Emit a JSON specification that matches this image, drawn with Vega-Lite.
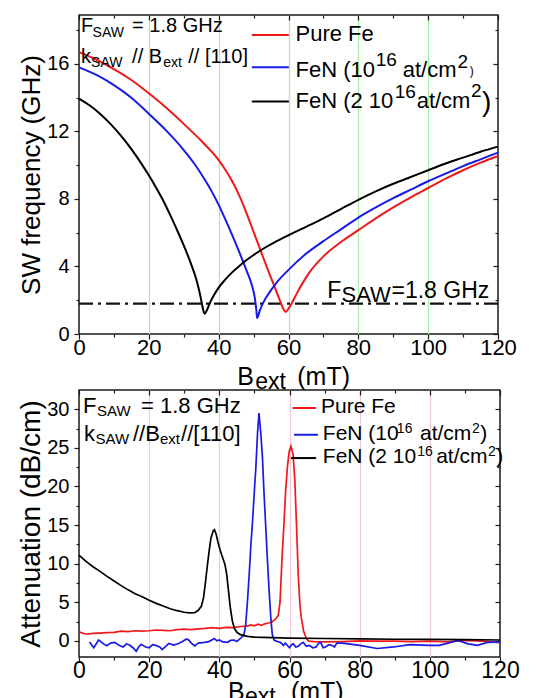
{
  "$schema": "https://vega.github.io/schema/vega-lite/v6.json",
  "padding": {"left": 17, "top": 13, "right": 5, "bottom": 0},
  "autosize": {"type": "pad"},
  "background": "white",
  "bounds": "flush",
  "spacing": 56,
  "config": {
    "font": "Liberation Sans",
    "view": {"stroke": "#1a1a1a", "strokeWidth": 1.5},
    "axis": {"labelFont": "Liberation Sans", "titleFont": "Liberation Sans", "labelColor": "#000", "tickColor": "#1a1a1a", "titleColor": "#000", "titleFontWeight": "normal", "domain": false, "grid": false, "labelFlush": false, "tickWidth": 1.2},
    "text": {"font": "Liberation Sans", "baseline": "alphabetic", "align": "left", "color": "#000"}
  },
  "datasets": {
    "sw": [
      {"B":0,"f":16.7,"s":"Pure Fe"},{"B":5,"f":16.25,"s":"Pure Fe"},{"B":10,"f":15.7,"s":"Pure Fe"},{"B":15,"f":15.05,"s":"Pure Fe"},{"B":20,"f":14.26,"s":"Pure Fe"},{"B":25,"f":13.4,"s":"Pure Fe"},{"B":30,"f":12.45,"s":"Pure Fe"},{"B":35,"f":11.45,"s":"Pure Fe"},{"B":38,"f":10.8,"s":"Pure Fe"},{"B":40,"f":10.3,"s":"Pure Fe"},{"B":42,"f":9.7,"s":"Pure Fe"},{"B":44,"f":9.0,"s":"Pure Fe"},{"B":46,"f":8.15,"s":"Pure Fe"},{"B":48,"f":7.15,"s":"Pure Fe"},{"B":50,"f":6.05,"s":"Pure Fe"},{"B":52,"f":4.95,"s":"Pure Fe"},{"B":54,"f":3.85,"s":"Pure Fe"},{"B":56,"f":2.8,"s":"Pure Fe"},{"B":57.5,"f":2.0,"s":"Pure Fe"},{"B":58.5,"f":1.5,"s":"Pure Fe"},{"B":59.2,"f":1.3,"s":"Pure Fe"},{"B":60,"f":1.5,"s":"Pure Fe"},{"B":61,"f":1.85,"s":"Pure Fe"},{"B":62.5,"f":2.45,"s":"Pure Fe"},{"B":64,"f":3.0,"s":"Pure Fe"},{"B":66,"f":3.65,"s":"Pure Fe"},{"B":70,"f":4.6,"s":"Pure Fe"},{"B":75,"f":5.45,"s":"Pure Fe"},{"B":80,"f":6.15,"s":"Pure Fe"},{"B":85,"f":6.85,"s":"Pure Fe"},{"B":90,"f":7.5,"s":"Pure Fe"},{"B":95,"f":8.1,"s":"Pure Fe"},{"B":100,"f":8.65,"s":"Pure Fe"},{"B":105,"f":9.2,"s":"Pure Fe"},{"B":110,"f":9.7,"s":"Pure Fe"},{"B":115,"f":10.15,"s":"Pure Fe"},{"B":120,"f":10.55,"s":"Pure Fe"},
      {"B":0,"f":15.8,"s":"FeN 1e16"},{"B":5,"f":15.35,"s":"FeN 1e16"},{"B":10,"f":14.75,"s":"FeN 1e16"},{"B":15,"f":14.0,"s":"FeN 1e16"},{"B":20,"f":13.05,"s":"FeN 1e16"},{"B":25,"f":12.05,"s":"FeN 1e16"},{"B":30,"f":10.9,"s":"FeN 1e16"},{"B":33,"f":10.1,"s":"FeN 1e16"},{"B":36,"f":9.15,"s":"FeN 1e16"},{"B":38,"f":8.45,"s":"FeN 1e16"},{"B":40,"f":7.65,"s":"FeN 1e16"},{"B":42,"f":6.75,"s":"FeN 1e16"},{"B":44,"f":5.8,"s":"FeN 1e16"},{"B":46,"f":4.8,"s":"FeN 1e16"},{"B":48,"f":3.75,"s":"FeN 1e16"},{"B":49.5,"f":2.9,"s":"FeN 1e16"},{"B":50.3,"f":2.2,"s":"FeN 1e16"},{"B":50.8,"f":1.4,"s":"FeN 1e16"},{"B":51,"f":0.95,"s":"FeN 1e16"},{"B":51.8,"f":1.4,"s":"FeN 1e16"},{"B":53,"f":1.95,"s":"FeN 1e16"},{"B":55,"f":2.6,"s":"FeN 1e16"},{"B":56.6,"f":3.05,"s":"FeN 1e16"},{"B":60,"f":3.8,"s":"FeN 1e16"},{"B":65,"f":4.75,"s":"FeN 1e16"},{"B":70,"f":5.5,"s":"FeN 1e16"},{"B":75,"f":6.2,"s":"FeN 1e16"},{"B":80,"f":6.9,"s":"FeN 1e16"},{"B":85,"f":7.5,"s":"FeN 1e16"},{"B":90,"f":8.05,"s":"FeN 1e16"},{"B":95,"f":8.55,"s":"FeN 1e16"},{"B":100,"f":9.05,"s":"FeN 1e16"},{"B":105,"f":9.5,"s":"FeN 1e16"},{"B":110,"f":9.95,"s":"FeN 1e16"},{"B":115,"f":10.35,"s":"FeN 1e16"},{"B":120,"f":10.75,"s":"FeN 1e16"},
      {"B":0,"f":13.95,"s":"FeN 2e16"},{"B":3,"f":13.55,"s":"FeN 2e16"},{"B":6,"f":13.05,"s":"FeN 2e16"},{"B":9,"f":12.45,"s":"FeN 2e16"},{"B":12,"f":11.75,"s":"FeN 2e16"},{"B":15,"f":10.95,"s":"FeN 2e16"},{"B":18,"f":10.05,"s":"FeN 2e16"},{"B":20,"f":9.4,"s":"FeN 2e16"},{"B":22,"f":8.7,"s":"FeN 2e16"},{"B":24,"f":7.95,"s":"FeN 2e16"},{"B":26,"f":7.1,"s":"FeN 2e16"},{"B":28,"f":6.2,"s":"FeN 2e16"},{"B":30,"f":5.25,"s":"FeN 2e16"},{"B":32,"f":4.2,"s":"FeN 2e16"},{"B":33.5,"f":3.3,"s":"FeN 2e16"},{"B":34.5,"f":2.5,"s":"FeN 2e16"},{"B":35.2,"f":1.8,"s":"FeN 2e16"},{"B":35.6,"f":1.4,"s":"FeN 2e16"},{"B":36,"f":1.2,"s":"FeN 2e16"},{"B":36.6,"f":1.4,"s":"FeN 2e16"},{"B":37.4,"f":1.8,"s":"FeN 2e16"},{"B":38.5,"f":2.25,"s":"FeN 2e16"},{"B":40,"f":2.75,"s":"FeN 2e16"},{"B":42,"f":3.25,"s":"FeN 2e16"},{"B":44,"f":3.68,"s":"FeN 2e16"},{"B":46,"f":4.05,"s":"FeN 2e16"},{"B":48,"f":4.38,"s":"FeN 2e16"},{"B":50,"f":4.68,"s":"FeN 2e16"},{"B":53,"f":5.08,"s":"FeN 2e16"},{"B":56,"f":5.43,"s":"FeN 2e16"},{"B":60,"f":5.85,"s":"FeN 2e16"},{"B":65,"f":6.35,"s":"FeN 2e16"},{"B":70,"f":6.85,"s":"FeN 2e16"},{"B":75,"f":7.4,"s":"FeN 2e16"},{"B":80,"f":7.95,"s":"FeN 2e16"},{"B":85,"f":8.45,"s":"FeN 2e16"},{"B":90,"f":8.9,"s":"FeN 2e16"},{"B":95,"f":9.3,"s":"FeN 2e16"},{"B":100,"f":9.7,"s":"FeN 2e16"},{"B":105,"f":10.1,"s":"FeN 2e16"},{"B":110,"f":10.45,"s":"FeN 2e16"},{"B":115,"f":10.8,"s":"FeN 2e16"},{"B":120,"f":11.1,"s":"FeN 2e16"}
    ],
    "att": [
      {"B":0,"a":1.15,"s":"Pure Fe"},{"B":2,"a":0.85,"s":"Pure Fe"},{"B":4,"a":0.95,"s":"Pure Fe"},{"B":6,"a":1.0,"s":"Pure Fe"},{"B":8,"a":1.05,"s":"Pure Fe"},{"B":10,"a":1.1,"s":"Pure Fe"},{"B":12,"a":1.25,"s":"Pure Fe"},{"B":14,"a":1.2,"s":"Pure Fe"},{"B":16,"a":1.3,"s":"Pure Fe"},{"B":18,"a":1.25,"s":"Pure Fe"},{"B":20,"a":1.3,"s":"Pure Fe"},{"B":22,"a":1.4,"s":"Pure Fe"},{"B":24,"a":1.35,"s":"Pure Fe"},{"B":26,"a":1.3,"s":"Pure Fe"},{"B":28,"a":1.45,"s":"Pure Fe"},{"B":30,"a":1.5,"s":"Pure Fe"},{"B":32,"a":1.45,"s":"Pure Fe"},{"B":34,"a":1.55,"s":"Pure Fe"},{"B":36,"a":1.6,"s":"Pure Fe"},{"B":38,"a":1.7,"s":"Pure Fe"},{"B":40,"a":1.6,"s":"Pure Fe"},{"B":42,"a":1.75,"s":"Pure Fe"},{"B":44,"a":1.7,"s":"Pure Fe"},{"B":46,"a":1.85,"s":"Pure Fe"},{"B":48,"a":1.9,"s":"Pure Fe"},{"B":49,"a":2.05,"s":"Pure Fe"},{"B":50,"a":1.95,"s":"Pure Fe"},{"B":51,"a":2.15,"s":"Pure Fe"},{"B":52,"a":2.0,"s":"Pure Fe"},{"B":53,"a":2.2,"s":"Pure Fe"},{"B":54,"a":2.3,"s":"Pure Fe"},{"B":55,"a":2.45,"s":"Pure Fe"},{"B":56,"a":2.8,"s":"Pure Fe"},{"B":56.8,"a":3.3,"s":"Pure Fe"},{"B":57.3,"a":5.0,"s":"Pure Fe"},{"B":57.9,"a":11,"s":"Pure Fe"},{"B":58.4,"a":15,"s":"Pure Fe"},{"B":58.9,"a":19.5,"s":"Pure Fe"},{"B":59.4,"a":22.5,"s":"Pure Fe"},{"B":59.9,"a":24.5,"s":"Pure Fe"},{"B":60.4,"a":25.2,"s":"Pure Fe"},{"B":61,"a":24.2,"s":"Pure Fe"},{"B":61.5,"a":21,"s":"Pure Fe"},{"B":62,"a":15,"s":"Pure Fe"},{"B":62.5,"a":8.5,"s":"Pure Fe"},{"B":63,"a":4.5,"s":"Pure Fe"},{"B":63.4,"a":2.9,"s":"Pure Fe"},{"B":64,"a":1.3,"s":"Pure Fe"},{"B":64.8,"a":0.3,"s":"Pure Fe"},{"B":65.5,"a":-0.05,"s":"Pure Fe"},{"B":67,"a":-0.1,"s":"Pure Fe"},{"B":70,"a":-0.15,"s":"Pure Fe"},{"B":75,"a":-0.1,"s":"Pure Fe"},{"B":80,"a":0,"s":"Pure Fe"},{"B":85,"a":-0.05,"s":"Pure Fe"},{"B":90,"a":-0.05,"s":"Pure Fe"},{"B":95,"a":-0.1,"s":"Pure Fe"},{"B":100,"a":-0.05,"s":"Pure Fe"},{"B":105,"a":-0.15,"s":"Pure Fe"},{"B":110,"a":0.05,"s":"Pure Fe"},{"B":115,"a":-0.05,"s":"Pure Fe"},{"B":120,"a":-0.25,"s":"Pure Fe"},
      {"B":3,"a":-0.15,"s":"FeN 1e16"},{"B":4.2,"a":-0.9,"s":"FeN 1e16"},{"B":5.6,"a":0.1,"s":"FeN 1e16"},{"B":7,"a":-0.4,"s":"FeN 1e16"},{"B":7.9,"a":-0.65,"s":"FeN 1e16"},{"B":9,"a":-0.3,"s":"FeN 1e16"},{"B":10.2,"a":-0.2,"s":"FeN 1e16"},{"B":11.5,"a":-0.6,"s":"FeN 1e16"},{"B":12.6,"a":-0.8,"s":"FeN 1e16"},{"B":13.5,"a":-0.4,"s":"FeN 1e16"},{"B":14.4,"a":-0.55,"s":"FeN 1e16"},{"B":15.4,"a":-0.9,"s":"FeN 1e16"},{"B":16.3,"a":-1.35,"s":"FeN 1e16"},{"B":17,"a":-0.8,"s":"FeN 1e16"},{"B":17.7,"a":-0.45,"s":"FeN 1e16"},{"B":19,"a":-0.8,"s":"FeN 1e16"},{"B":20,"a":-0.9,"s":"FeN 1e16"},{"B":21,"a":-0.5,"s":"FeN 1e16"},{"B":21.9,"a":-0.6,"s":"FeN 1e16"},{"B":23,"a":-0.8,"s":"FeN 1e16"},{"B":23.7,"a":-1.15,"s":"FeN 1e16"},{"B":24.8,"a":-0.7,"s":"FeN 1e16"},{"B":25.6,"a":-0.35,"s":"FeN 1e16"},{"B":27,"a":-0.55,"s":"FeN 1e16"},{"B":28.4,"a":-0.35,"s":"FeN 1e16"},{"B":29.5,"a":-0.1,"s":"FeN 1e16"},{"B":30.5,"a":0.2,"s":"FeN 1e16"},{"B":31.2,"a":0.15,"s":"FeN 1e16"},{"B":32,"a":-0.3,"s":"FeN 1e16"},{"B":33,"a":-0.65,"s":"FeN 1e16"},{"B":34,"a":-0.3,"s":"FeN 1e16"},{"B":35.8,"a":-0.2,"s":"FeN 1e16"},{"B":37,"a":-0.1,"s":"FeN 1e16"},{"B":38.6,"a":0.3,"s":"FeN 1e16"},{"B":39.3,"a":0.0,"s":"FeN 1e16"},{"B":40,"a":0.1,"s":"FeN 1e16"},{"B":41,"a":-0.15,"s":"FeN 1e16"},{"B":42.3,"a":-0.2,"s":"FeN 1e16"},{"B":43.2,"a":0.05,"s":"FeN 1e16"},{"B":44.2,"a":0.1,"s":"FeN 1e16"},{"B":45,"a":-0.1,"s":"FeN 1e16"},{"B":46,"a":0.3,"s":"FeN 1e16"},{"B":47,"a":0.75,"s":"FeN 1e16"},{"B":47.5,"a":2.0,"s":"FeN 1e16"},{"B":48,"a":5,"s":"FeN 1e16"},{"B":48.5,"a":8.5,"s":"FeN 1e16"},{"B":49,"a":12.5,"s":"FeN 1e16"},{"B":49.4,"a":15,"s":"FeN 1e16"},{"B":50,"a":19.5,"s":"FeN 1e16"},{"B":50.4,"a":22.4,"s":"FeN 1e16"},{"B":50.9,"a":27,"s":"FeN 1e16"},{"B":51.3,"a":29.5,"s":"FeN 1e16"},{"B":51.8,"a":27,"s":"FeN 1e16"},{"B":52.3,"a":23.7,"s":"FeN 1e16"},{"B":52.7,"a":19.5,"s":"FeN 1e16"},{"B":53.2,"a":15,"s":"FeN 1e16"},{"B":53.7,"a":10.5,"s":"FeN 1e16"},{"B":54.2,"a":6.4,"s":"FeN 1e16"},{"B":54.7,"a":2.8,"s":"FeN 1e16"},{"B":55.1,"a":0.8,"s":"FeN 1e16"},{"B":55.6,"a":0.1,"s":"FeN 1e16"},{"B":56.5,"a":-0.1,"s":"FeN 1e16"},{"B":57.4,"a":-0.2,"s":"FeN 1e16"},{"B":58.3,"a":-0.6,"s":"FeN 1e16"},{"B":58.8,"a":-0.3,"s":"FeN 1e16"},{"B":60,"a":-0.9,"s":"FeN 1e16"},{"B":60.6,"a":-0.5,"s":"FeN 1e16"},{"B":61.1,"a":-0.4,"s":"FeN 1e16"},{"B":61.8,"a":-0.8,"s":"FeN 1e16"},{"B":62.5,"a":-0.7,"s":"FeN 1e16"},{"B":63.2,"a":-0.4,"s":"FeN 1e16"},{"B":63.9,"a":-0.2,"s":"FeN 1e16"},{"B":64.8,"a":-0.7,"s":"FeN 1e16"},{"B":65.7,"a":-0.6,"s":"FeN 1e16"},{"B":66.6,"a":-0.9,"s":"FeN 1e16"},{"B":67.6,"a":-0.8,"s":"FeN 1e16"},{"B":68.3,"a":-0.3,"s":"FeN 1e16"},{"B":68.9,"a":-0.2,"s":"FeN 1e16"},{"B":69.6,"a":-0.9,"s":"FeN 1e16"},{"B":70.3,"a":-0.8,"s":"FeN 1e16"},{"B":71.2,"a":-0.5,"s":"FeN 1e16"},{"B":72.2,"a":-0.6,"s":"FeN 1e16"},{"B":72.8,"a":-0.8,"s":"FeN 1e16"},{"B":73.5,"a":-0.3,"s":"FeN 1e16"},{"B":75,"a":-0.3,"s":"FeN 1e16"},{"B":76.8,"a":-0.4,"s":"FeN 1e16"},{"B":80,"a":-0.6,"s":"FeN 1e16"},{"B":85,"a":-1.0,"s":"FeN 1e16"},{"B":89.7,"a":-0.8,"s":"FeN 1e16"},{"B":94.3,"a":-0.5,"s":"FeN 1e16"},{"B":99.8,"a":-0.6,"s":"FeN 1e16"},{"B":102.6,"a":-0.6,"s":"FeN 1e16"},{"B":104.4,"a":-0.4,"s":"FeN 1e16"},{"B":108,"a":0.05,"s":"FeN 1e16"},{"B":110.9,"a":-0.4,"s":"FeN 1e16"},{"B":113.6,"a":-0.6,"s":"FeN 1e16"},{"B":116.4,"a":-0.2,"s":"FeN 1e16"},{"B":120,"a":-0.15,"s":"FeN 1e16"},
      {"B":0,"a":11.1,"s":"FeN 2e16"},{"B":2,"a":10.3,"s":"FeN 2e16"},{"B":4,"a":9.6,"s":"FeN 2e16"},{"B":6,"a":9.0,"s":"FeN 2e16"},{"B":8,"a":8.35,"s":"FeN 2e16"},{"B":10,"a":7.75,"s":"FeN 2e16"},{"B":12,"a":7.15,"s":"FeN 2e16"},{"B":14,"a":6.6,"s":"FeN 2e16"},{"B":16,"a":6.1,"s":"FeN 2e16"},{"B":18,"a":5.7,"s":"FeN 2e16"},{"B":20,"a":5.25,"s":"FeN 2e16"},{"B":22,"a":4.85,"s":"FeN 2e16"},{"B":24,"a":4.5,"s":"FeN 2e16"},{"B":26,"a":4.15,"s":"FeN 2e16"},{"B":28,"a":3.9,"s":"FeN 2e16"},{"B":30,"a":3.7,"s":"FeN 2e16"},{"B":31.5,"a":3.62,"s":"FeN 2e16"},{"B":33,"a":3.65,"s":"FeN 2e16"},{"B":34,"a":3.95,"s":"FeN 2e16"},{"B":34.9,"a":4.5,"s":"FeN 2e16"},{"B":35.5,"a":5.6,"s":"FeN 2e16"},{"B":36,"a":7.4,"s":"FeN 2e16"},{"B":36.5,"a":9.4,"s":"FeN 2e16"},{"B":37,"a":11.3,"s":"FeN 2e16"},{"B":37.6,"a":13.3,"s":"FeN 2e16"},{"B":38.3,"a":14.3,"s":"FeN 2e16"},{"B":38.6,"a":14.4,"s":"FeN 2e16"},{"B":39.1,"a":13.8,"s":"FeN 2e16"},{"B":39.6,"a":12.8,"s":"FeN 2e16"},{"B":40.2,"a":11.8,"s":"FeN 2e16"},{"B":41,"a":10.7,"s":"FeN 2e16"},{"B":41.6,"a":9.9,"s":"FeN 2e16"},{"B":42.1,"a":8.6,"s":"FeN 2e16"},{"B":42.6,"a":6.5,"s":"FeN 2e16"},{"B":43.1,"a":4.4,"s":"FeN 2e16"},{"B":43.7,"a":2.6,"s":"FeN 2e16"},{"B":44.3,"a":1.6,"s":"FeN 2e16"},{"B":45,"a":1.1,"s":"FeN 2e16"},{"B":46,"a":0.8,"s":"FeN 2e16"},{"B":48,"a":0.58,"s":"FeN 2e16"},{"B":50,"a":0.48,"s":"FeN 2e16"},{"B":55,"a":0.4,"s":"FeN 2e16"},{"B":60,"a":0.35,"s":"FeN 2e16"},{"B":70,"a":0.3,"s":"FeN 2e16"},{"B":80,"a":0.25,"s":"FeN 2e16"},{"B":90,"a":0.2,"s":"FeN 2e16"},{"B":100,"a":0.18,"s":"FeN 2e16"},{"B":110,"a":0.14,"s":"FeN 2e16"},{"B":120,"a":0.1,"s":"FeN 2e16"}
    ],
    "ref": [{"f": 1.8}],
    "legTop": [
      {"x1":49.5,"x2":60.1,"f":17.72,"s":"Pure Fe"},
      {"x1":49.5,"x2":60.1,"f":15.8,"s":"FeN 1e16"},
      {"x1":49.5,"x2":60.1,"f":13.78,"s":"FeN 2e16"}
    ],
    "legBot": [
      {"x1":60.9,"x2":67.6,"a":30.17,"s":"Pure Fe"},
      {"x1":61.3,"x2":68.1,"a":26.7,"s":"FeN 1e16"},
      {"x1":60.4,"x2":67.6,"a":23.68,"s":"FeN 2e16"}
    ],
    "tTopMain": [
      {"B":0.6,"f":17.88,"t":"F"},
      {"B":15.2,"f":17.88,"t":"= 1.8 GHz"},
      {"B":0.6,"f":16.08,"t":"k"},
      {"B":15.2,"f":16.08,"t":"// B"},
      {"B":31.3,"f":16.08,"t":"// [110]"}
    ],
    "tTopSub": [
      {"B":3.9,"f":17.62,"t":"SAW"},
      {"B":3.45,"f":15.84,"t":"SAW"},
      {"B":24.1,"f":15.84,"t":"ext"}
    ],
    "tTopLeg": [
      {"B":62.0,"f":17.37,"t":"Pure Fe"},
      {"B":62.0,"f":15.25,"t":"FeN (10"},
      {"B":92.7,"f":15.25,"t":"at/cm"},
      {"B":62.0,"f":13.37,"t":"FeN (2 10"},
      {"B":96.7,"f":13.37,"t":"at/cm"}
    ],
    "tTopSup": [
      {"B":85.0,"f":15.85,"t":"16"},
      {"B":108.4,"f":15.74,"t":"2"},
      {"B":90.4,"f":13.97,"t":"16"},
      {"B":112.3,"f":14.07,"t":"2"}
    ],
    "tTopParS": [{"B":111.9,"f":15.37,"t":")"}],
    "tTopParL": [{"B":115.4,"f":13.23,"t":")"}],
    "tTopFsaw": [
      {"B":71.1,"f":2.16,"t":"F"},
      {"B":89.5,"f":2.16,"t":"=1.8 GHz"}
    ],
    "tTopFsawSub": [{"B":75.2,"f":1.92,"t":"SAW"}],
    "tTopX": [
      {"B":45.3,"f":-3.0,"t":"B"},
      {"B":62.5,"f":-3.0,"t":"(mT)"}
    ],
    "tTopXSub": [{"B":50.5,"f":-3.24,"t":"ext"}],
    "tBotMain": [
      {"B":1.14,"a":29.52,"t":"F"},
      {"B":17.67,"a":29.52,"t":"= 1.8 GHz"},
      {"B":1.43,"a":25.84,"t":"k"},
      {"B":15.39,"a":25.84,"t":"//B"},
      {"B":29.08,"a":25.84,"t":"//[110]"}
    ],
    "tBotSub": [
      {"B":5.13,"a":29.09,"t":"SAW"},
      {"B":4.7,"a":25.45,"t":"SAW"},
      {"B":23.09,"a":25.45,"t":"ext"}
    ],
    "tBotLeg1": [{"B":69.0,"a":29.52,"t":"Pure Fe"}],
    "tBotLeg": [
      {"B":69.5,"a":26.06,"t":"FeN (10"},
      {"B":97.2,"a":26.06,"t":"at/cm"},
      {"B":114.4,"a":26.06,"t":")"},
      {"B":69.5,"a":23.03,"t":"FeN (2 10"},
      {"B":101.8,"a":23.03,"t":"at/cm"},
      {"B":118.9,"a":23.03,"t":")"}
    ],
    "tBotSup": [
      {"B":90.6,"a":26.9,"t":"16"},
      {"B":112.0,"a":26.9,"t":"2"},
      {"B":96.4,"a":23.9,"t":"16"},
      {"B":116.6,"a":23.9,"t":"2"}
    ],
    "tBotX": [
      {"B":42.5,"a":-7.66,"t":"B"},
      {"B":60.4,"a":-7.66,"t":"(mT)"}
    ],
    "tBotXSub": [{"B":47.3,"a":-8.18,"t":"ext"}]
  },
  "vconcat": [
    {
      "width": 419,
      "height": 319,
      "resolve": {"axis": {"x": "independent", "y": "independent"}},
      "layer": [
        {
          "data": {"name": "sw"},
          "mark": {"type": "point", "opacity": 0},
          "encoding": {
            "x": {"field": "B", "type": "quantitative", "scale": {"domain": [0, 120], "nice": false, "zero": false},
              "axis": {"orient": "bottom", "values": [20, 40, 60, 80, 100], "grid": true, "gridColor": "#a6eda6", "gridWidth": 1.2, "ticks": false, "labels": false, "title": null}},
            "y": {"field": "f", "type": "quantitative", "scale": {"domain": [0, 18.9], "nice": false, "zero": false}, "axis": null}
          }
        },
        {
          "data": {"name": "sw"},
          "mark": {"type": "point", "opacity": 0},
          "encoding": {
            "x": {"field": "B", "type": "quantitative",
              "axis": {"orient": "bottom", "values": [0, 20, 40, 60, 80, 100, 120], "tickSize": 5, "labelFontSize": 22, "labelPadding": -2, "title": null}},
            "y": {"field": "f", "type": "quantitative",
              "axis": {"orient": "left", "values": [0, 4, 8, 12, 16], "tickSize": 5, "labelFontSize": 20, "labelPadding": 5, "title": "SW frequency (GHz)", "titleFontSize": 26, "titlePadding": 2}}
          }
        },
        {
          "data": {"name": "sw"},
          "mark": {"type": "point", "opacity": 0},
          "encoding": {
            "x": {"field": "B", "type": "quantitative",
              "axis": {"orient": "bottom", "values": [10, 30, 50, 70, 90, 110], "tickSize": 3, "labels": false, "title": null}},
            "y": {"field": "f", "type": "quantitative",
              "axis": {"orient": "left", "values": [2, 6, 10, 14, 18], "tickSize": 3, "labels": false, "title": null}}
          }
        },
        {
          "data": {"name": "sw"},
          "mark": {"type": "point", "opacity": 0},
          "encoding": {
            "x": {"field": "B", "type": "quantitative",
              "axis": {"orient": "top", "values": [0, 20, 40, 60, 80, 100, 120], "tickSize": 5, "offset": -5, "labels": false, "title": null}},
            "y": {"field": "f", "type": "quantitative",
              "axis": {"orient": "right", "values": [0, 4, 8, 12, 16], "tickSize": 5, "offset": -5, "labels": false, "title": null}}
          }
        },
        {
          "data": {"name": "sw"},
          "mark": {"type": "point", "opacity": 0},
          "encoding": {
            "x": {"field": "B", "type": "quantitative",
              "axis": {"orient": "top", "values": [10, 30, 50, 70, 90, 110], "tickSize": 3, "offset": -3, "labels": false, "title": null}},
            "y": {"field": "f", "type": "quantitative",
              "axis": {"orient": "right", "values": [2, 6, 10, 14, 18], "tickSize": 3, "offset": -3, "labels": false, "title": null}}
          }
        },
        {
          "data": {"name": "ref"},
          "mark": {"type": "rule", "strokeDash": [14, 5, 3, 5], "strokeWidth": 2.2, "color": "#111111"},
          "encoding": {"y": {"field": "f", "type": "quantitative", "axis": null}}
        },
        {
          "data": {"name": "sw"},
          "mark": {"type": "line", "strokeWidth": 2, "interpolate": "monotone"},
          "encoding": {
            "x": {"field": "B", "type": "quantitative", "axis": null},
            "y": {"field": "f", "type": "quantitative", "axis": null},
            "color": {"field": "s", "type": "nominal", "scale": {"domain": ["Pure Fe", "FeN 1e16", "FeN 2e16"], "range": ["#f01818", "#1a1ae6", "#000000"]}, "legend": null}
          }
        },
        {
          "data": {"name": "legTop"},
          "mark": {"type": "rule", "strokeWidth": 2},
          "encoding": {
            "x": {"field": "x1", "type": "quantitative", "axis": null},
            "x2": {"field": "x2"},
            "y": {"field": "f", "type": "quantitative", "axis": null},
            "color": {"field": "s", "type": "nominal", "legend": null}
          }
        },
        {
          "data": {"name": "tTopMain"},
          "mark": {"type": "text", "fontSize": 20},
          "encoding": {"x": {"field": "B", "type": "quantitative", "axis": null}, "y": {"field": "f", "type": "quantitative", "axis": null}, "text": {"field": "t"}}
        },
        {
          "data": {"name": "tTopSub"},
          "mark": {"type": "text", "fontSize": 14},
          "encoding": {"x": {"field": "B", "type": "quantitative", "axis": null}, "y": {"field": "f", "type": "quantitative", "axis": null}, "text": {"field": "t"}}
        },
        {
          "data": {"name": "tTopLeg"},
          "mark": {"type": "text", "fontSize": 22},
          "encoding": {"x": {"field": "B", "type": "quantitative", "axis": null}, "y": {"field": "f", "type": "quantitative", "axis": null}, "text": {"field": "t"}}
        },
        {
          "data": {"name": "tTopSup"},
          "mark": {"type": "text", "fontSize": 19},
          "encoding": {"x": {"field": "B", "type": "quantitative", "axis": null}, "y": {"field": "f", "type": "quantitative", "axis": null}, "text": {"field": "t"}}
        },
        {
          "data": {"name": "tTopParS"},
          "mark": {"type": "text", "fontSize": 12},
          "encoding": {"x": {"field": "B", "type": "quantitative", "axis": null}, "y": {"field": "f", "type": "quantitative", "axis": null}, "text": {"field": "t"}}
        },
        {
          "data": {"name": "tTopParL"},
          "mark": {"type": "text", "fontSize": 28},
          "encoding": {"x": {"field": "B", "type": "quantitative", "axis": null}, "y": {"field": "f", "type": "quantitative", "axis": null}, "text": {"field": "t"}}
        },
        {
          "data": {"name": "tTopFsaw"},
          "mark": {"type": "text", "fontSize": 23},
          "encoding": {"x": {"field": "B", "type": "quantitative", "axis": null}, "y": {"field": "f", "type": "quantitative", "axis": null}, "text": {"field": "t"}}
        },
        {
          "data": {"name": "tTopFsawSub"},
          "mark": {"type": "text", "fontSize": 22},
          "encoding": {"x": {"field": "B", "type": "quantitative", "axis": null}, "y": {"field": "f", "type": "quantitative", "axis": null}, "text": {"field": "t"}}
        },
        {
          "data": {"name": "tTopX"},
          "mark": {"type": "text", "fontSize": 25},
          "encoding": {"x": {"field": "B", "type": "quantitative", "axis": null}, "y": {"field": "f", "type": "quantitative", "axis": null}, "text": {"field": "t"}}
        },
        {
          "data": {"name": "tTopXSub"},
          "mark": {"type": "text", "fontSize": 23},
          "encoding": {"x": {"field": "B", "type": "quantitative", "axis": null}, "y": {"field": "f", "type": "quantitative", "axis": null}, "text": {"field": "t"}}
        }
      ]
    },
    {
      "width": 421,
      "height": 267,
      "resolve": {"axis": {"x": "independent", "y": "independent"}},
      "layer": [
        {
          "data": {"name": "att"},
          "mark": {"type": "point", "opacity": 0},
          "encoding": {
            "x": {"field": "B", "type": "quantitative", "scale": {"domain": [0, 120], "nice": false, "zero": false},
              "axis": {"orient": "bottom", "values": [20, 40, 60, 80, 100], "grid": true, "gridColor": "#f3c9da", "gridWidth": 1.2, "ticks": false, "labels": false, "title": null}},
            "y": {"field": "a", "type": "quantitative", "scale": {"domain": [-2.1, 32.5], "nice": false, "zero": false}, "axis": null}
          }
        },
        {
          "data": {"name": "att"},
          "mark": {"type": "point", "opacity": 0},
          "encoding": {
            "x": {"field": "B", "type": "quantitative",
              "axis": {"orient": "bottom", "values": [0, 20, 40, 60, 80, 100, 120], "tickSize": 5, "labelFontSize": 23, "labelPadding": -3, "title": null}},
            "y": {"field": "a", "type": "quantitative",
              "axis": {"orient": "left", "values": [0, 5, 10, 15, 20, 25, 30], "tickSize": 5, "labelFontSize": 20, "labelPadding": 5, "title": "Attenuation (dB/cm)", "titleFontSize": 28, "titlePadding": 1}}
          }
        },
        {
          "data": {"name": "att"},
          "mark": {"type": "point", "opacity": 0},
          "encoding": {
            "x": {"field": "B", "type": "quantitative",
              "axis": {"orient": "bottom", "values": [10, 30, 50, 70, 90, 110], "tickSize": 3, "labels": false, "title": null}},
            "y": {"field": "a", "type": "quantitative",
              "axis": {"orient": "left", "values": [2.5, 7.5, 12.5, 17.5, 22.5, 27.5], "tickSize": 3, "labels": false, "title": null}}
          }
        },
        {
          "data": {"name": "att"},
          "mark": {"type": "point", "opacity": 0},
          "encoding": {
            "x": {"field": "B", "type": "quantitative",
              "axis": {"orient": "top", "values": [0, 20, 40, 60, 80, 100, 120], "tickSize": 5, "offset": -5, "labels": false, "title": null}},
            "y": {"field": "a", "type": "quantitative",
              "axis": {"orient": "right", "values": [0, 5, 10, 15, 20, 25, 30], "tickSize": 5, "offset": -5, "labels": false, "title": null}}
          }
        },
        {
          "data": {"name": "att"},
          "mark": {"type": "point", "opacity": 0},
          "encoding": {
            "x": {"field": "B", "type": "quantitative",
              "axis": {"orient": "top", "values": [10, 30, 50, 70, 90, 110], "tickSize": 3, "offset": -3, "labels": false, "title": null}},
            "y": {"field": "a", "type": "quantitative",
              "axis": {"orient": "right", "values": [2.5, 7.5, 12.5, 17.5, 22.5, 27.5], "tickSize": 3, "offset": -3, "labels": false, "title": null}}
          }
        },
        {
          "data": {"name": "att"},
          "mark": {"type": "line", "strokeWidth": 1.7},
          "encoding": {
            "x": {"field": "B", "type": "quantitative", "axis": null},
            "y": {"field": "a", "type": "quantitative", "axis": null},
            "color": {"field": "s", "type": "nominal", "scale": {"domain": ["Pure Fe", "FeN 1e16", "FeN 2e16"], "range": ["#f01818", "#1a1ae6", "#000000"]}, "legend": null}
          }
        },
        {
          "data": {"name": "legBot"},
          "mark": {"type": "rule", "strokeWidth": 2},
          "encoding": {
            "x": {"field": "x1", "type": "quantitative", "axis": null},
            "x2": {"field": "x2"},
            "y": {"field": "a", "type": "quantitative", "axis": null},
            "color": {"field": "s", "type": "nominal", "legend": null}
          }
        },
        {
          "data": {"name": "tBotMain"},
          "mark": {"type": "text", "fontSize": 22},
          "encoding": {"x": {"field": "B", "type": "quantitative", "axis": null}, "y": {"field": "a", "type": "quantitative", "axis": null}, "text": {"field": "t"}}
        },
        {
          "data": {"name": "tBotSub"},
          "mark": {"type": "text", "fontSize": 15},
          "encoding": {"x": {"field": "B", "type": "quantitative", "axis": null}, "y": {"field": "a", "type": "quantitative", "axis": null}, "text": {"field": "t"}}
        },
        {
          "data": {"name": "tBotLeg1"},
          "mark": {"type": "text", "fontSize": 21},
          "encoding": {"x": {"field": "B", "type": "quantitative", "axis": null}, "y": {"field": "a", "type": "quantitative", "axis": null}, "text": {"field": "t"}}
        },
        {
          "data": {"name": "tBotLeg"},
          "mark": {"type": "text", "fontSize": 21},
          "encoding": {"x": {"field": "B", "type": "quantitative", "axis": null}, "y": {"field": "a", "type": "quantitative", "axis": null}, "text": {"field": "t"}}
        },
        {
          "data": {"name": "tBotSup"},
          "mark": {"type": "text", "fontSize": 14},
          "encoding": {"x": {"field": "B", "type": "quantitative", "axis": null}, "y": {"field": "a", "type": "quantitative", "axis": null}, "text": {"field": "t"}}
        },
        {
          "data": {"name": "tBotX"},
          "mark": {"type": "text", "fontSize": 25},
          "encoding": {"x": {"field": "B", "type": "quantitative", "axis": null}, "y": {"field": "a", "type": "quantitative", "axis": null}, "text": {"field": "t"}}
        },
        {
          "data": {"name": "tBotXSub"},
          "mark": {"type": "text", "fontSize": 23},
          "encoding": {"x": {"field": "B", "type": "quantitative", "axis": null}, "y": {"field": "a", "type": "quantitative", "axis": null}, "text": {"field": "t"}}
        }
      ]
    }
  ]
}
